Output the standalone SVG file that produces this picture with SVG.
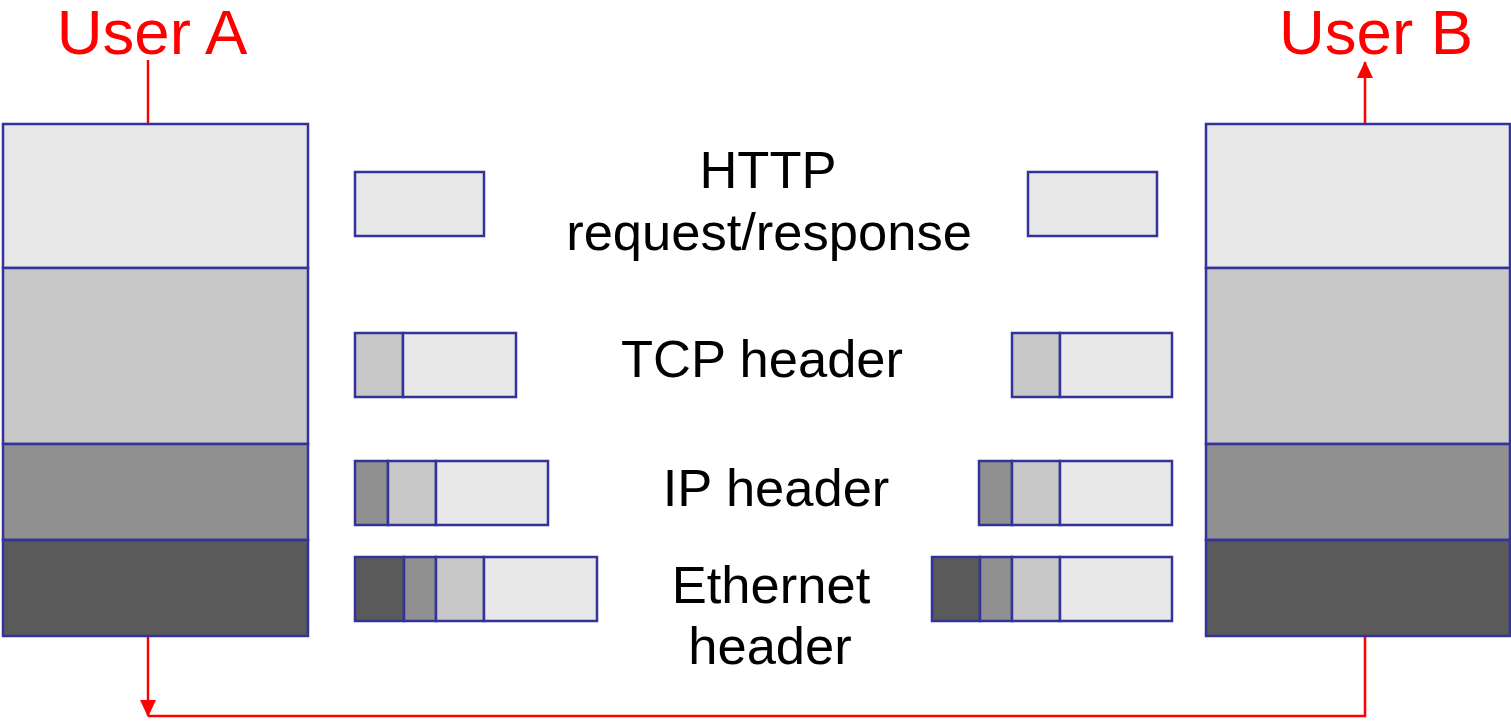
<svg xmlns="http://www.w3.org/2000/svg" width="1511" height="721" viewBox="0 0 1511 721">
<style>
.b{stroke:#333399;stroke-width:2.5}
.l1{fill:#E8E8E8}.l2{fill:#C8C8C8}.l3{fill:#909090}.l4{fill:#5A5A5A}
.t{font-family:"Liberation Sans",Arial,sans-serif;font-size:52.5px;fill:#000;text-anchor:middle}
.u{font-family:"Liberation Sans",Arial,sans-serif;font-size:63.5px;fill:#FF0000;text-anchor:middle}
.r{stroke:#FF0000;stroke-width:2.5;fill:none}
</style>
<defs>
<marker id="ah" viewBox="0 0 16 16" refX="15" refY="8" markerWidth="17" markerHeight="17" markerUnits="userSpaceOnUse" orient="auto">
<path d="M0,0.5 L16,8 L0,15.5 z" fill="#FF0000"/>
</marker>
</defs>
<rect width="1511" height="721" fill="#fff"/>
<g id="connectors">
<line class="r" x1="148" y1="60" x2="148" y2="123"/>
<line class="r" x1="1365" y1="123" x2="1365" y2="62" marker-end="url(#ah)"/>
<line class="r" x1="148" y1="637" x2="148" y2="716" marker-end="url(#ah)"/>
<polyline class="r" points="148,716 1365,716 1365,637"/>
</g>
<g id="userA"><text class="u" x="152" y="54">User A</text></g>
<g id="userB"><text class="u" x="1376" y="54">User B</text></g>
<g id="stackA">
<rect class="b l1" x="3" y="124" width="305" height="144"/>
<rect class="b l2" x="3" y="268" width="305" height="176"/>
<rect class="b l3" x="3" y="444" width="305" height="96"/>
<rect class="b l4" x="3" y="540" width="305" height="96"/>
</g>
<g id="stackB">
<rect class="b l1" x="1206" y="124" width="304" height="144"/>
<rect class="b l2" x="1206" y="268" width="304" height="176"/>
<rect class="b l3" x="1206" y="444" width="304" height="96"/>
<rect class="b l4" x="1206" y="540" width="304" height="96"/>
</g>
<g id="httpA"><rect class="b l1" x="355" y="172" width="129" height="64"/></g>
<g id="httpB"><rect class="b l1" x="1028" y="172" width="129" height="64"/></g>
<g id="tcpA">
<rect class="b l2" x="355" y="333" width="48" height="64"/>
<rect class="b l1" x="403" y="333" width="113" height="64"/>
</g>
<g id="tcpB">
<rect class="b l2" x="1012" y="333" width="48" height="64"/>
<rect class="b l1" x="1060" y="333" width="112" height="64"/>
</g>
<g id="ipA">
<rect class="b l3" x="355" y="461" width="33" height="64"/>
<rect class="b l2" x="388" y="461" width="48" height="64"/>
<rect class="b l1" x="436" y="461" width="112" height="64"/>
</g>
<g id="ipB">
<rect class="b l3" x="979" y="461" width="33" height="64"/>
<rect class="b l2" x="1012" y="461" width="48" height="64"/>
<rect class="b l1" x="1060" y="461" width="112" height="64"/>
</g>
<g id="ethA">
<rect class="b l4" x="355" y="557" width="49" height="64"/>
<rect class="b l3" x="404" y="557" width="32" height="64"/>
<rect class="b l2" x="436" y="557" width="48" height="64"/>
<rect class="b l1" x="484" y="557" width="113" height="64"/>
</g>
<g id="ethB">
<rect class="b l4" x="932" y="557" width="48" height="64"/>
<rect class="b l3" x="980" y="557" width="32" height="64"/>
<rect class="b l2" x="1012" y="557" width="48" height="64"/>
<rect class="b l1" x="1060" y="557" width="112" height="64"/>
</g>
<g id="labels">
<text class="t" x="768" y="188">HTTP</text>
<text class="t" x="769" y="250">request/response</text>
<text class="t" x="762" y="377">TCP header</text>
<text class="t" x="776" y="506">IP header</text>
<text class="t" x="771" y="603">Ethernet</text>
<text class="t" x="770" y="664">header</text>
</g>
</svg>
